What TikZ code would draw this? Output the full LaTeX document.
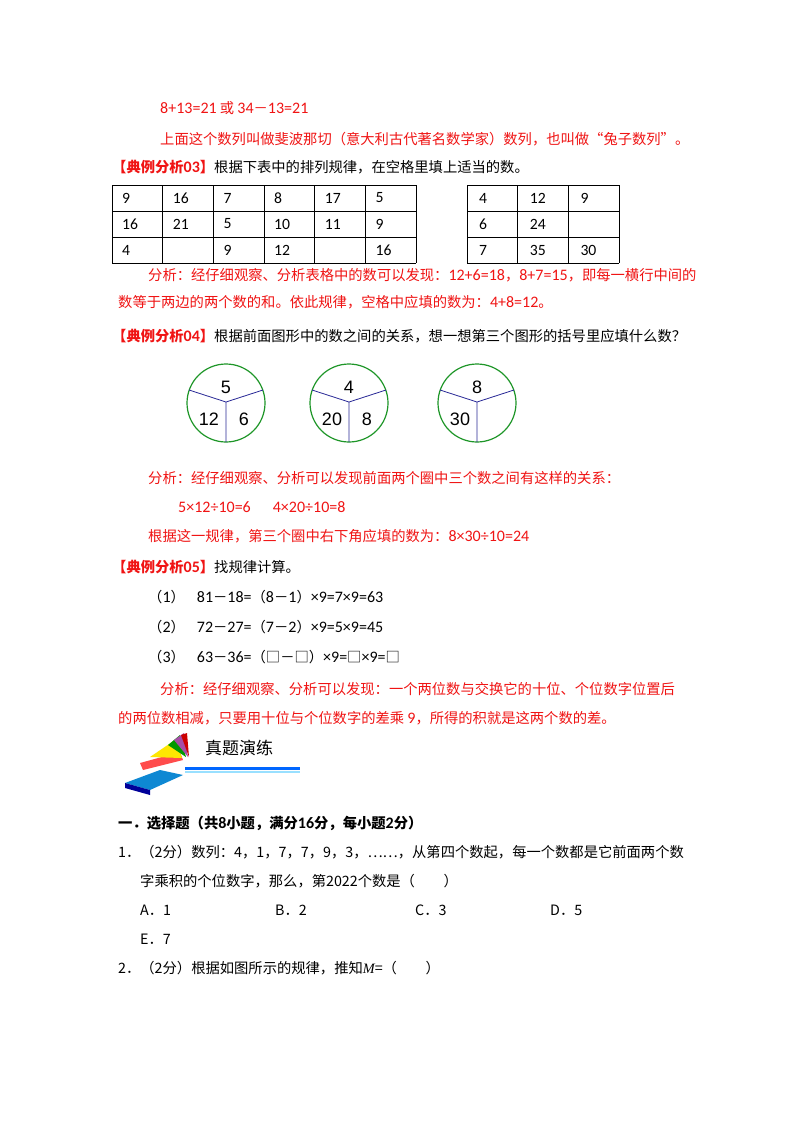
\documentclass[tikz,border=0pt]{standalone}
\usepackage{fontspec}
\setmainfont{Noto Sans CJK SC}
\newfontfamily\lat[Scale=1.12]{Carlito}
\newfontfamily\arl{Liberation Sans}
\definecolor{rd}{RGB}{240,20,20}
\definecolor{gr}{RGB}{30,150,40}
\definecolor{bl}{RGB}{40,40,150}
\begin{document}
\begin{tikzpicture}[x=1pt,y=-1pt,
 t/.style={anchor=west,inner sep=0,font=\fontsize{14.3}{14}\selectfont},
 r/.style={t,text=rd},
 c/.style={font=\fontsize{14}{14}\selectfont\lat,inner sep=0},
 n/.style={font=\fontsize{18}{18}\selectfont\arl,inner sep=0}]
\useasboundingbox[fill=white] (0,0) rectangle (800,1132);
\node[r] (l1) at (160,108) {{\lat 8+13=21} 或 {\lat 34}－{\lat 13=21}};
\node[r] (l2) at (160,139) {上面这个数列叫做斐波那切（意大利古代著名数学家）数列，也叫做“兔子数列”。};
\node[t] (l3) at (112,167) {\textcolor{rd}{\bfseries 【典例分析{\lat 03}】}根据下表中的排列规律，在空格里填上适当的数。};
% tables
\foreach \j in {0,...,3} \draw[thick] (112,185+26*\j) -- (416,185+26*\j);
\foreach \i in {0,...,6} \draw[thick] (112+50.67*\i,185) -- (112+50.67*\i,263);
\foreach \i/\a/\b/\c in {0/9/16/4,1/16/21/,2/7/5/9,3/8/10/12,4/17/11/,5/5/9/16}{
 \node[c,anchor=west] (a\i) at (112+50.67*\i+10,198) {\a};
 \node[c,anchor=west] (b\i) at (112+50.67*\i+10,224) {\b};
 \node[c,anchor=west] (d\i) at (112+50.67*\i+10,250) {\c};}
\foreach \j in {0,...,3} \draw[thick] (467,185+26*\j) -- (619,185+26*\j);
\foreach \i in {0,...,3} \draw[thick] (467+50.67*\i,185) -- (467+50.67*\i,263);
\foreach \i/\a/\b/\c in {0/4/6/7,1/12/24/35,2/9//30}{
 \node[c,anchor=west] (e\i) at (467+50.67*\i+12,198) {\a};
 \node[c,anchor=west] (f\i) at (467+50.67*\i+12,224) {\b};
 \node[c,anchor=west] (g\i) at (467+50.67*\i+12,250) {\c};}
\node[r] (l4) at (148,275) {分析：经仔细观察、分析表格中的数可以发现：{\lat 12+6=18}，{\lat 8+7=15}，即每一横行中间的};
\node[r] (l5) at (118,302) {数等于两边的两个数的和。依此规律，空格中应填的数为：{\lat 4+8=12}。};
\node[t] (l6) at (112,336) {\textcolor{rd}{\bfseries 【典例分析{\lat 04}】}根据前面图形中的数之间的关系，想一想第三个图形的括号里应填什么数？};
% circles
\foreach \x/\p/\q/\s [count=\k] in {226/5/12/6,349/4/20/8,477/8/30/}{
 \draw[gr,line width=1.2pt] (\x,403) circle (39);
 \coordinate (o\k) at (\x,402);
 \draw[bl,line width=0.8pt] (o\k) -- ++(-37,-12) (o\k) -- ++(37,-12) (o\k) -- ++(0,40);
 \node[n] (p\k) at (\x,387) {\p};
 \node[n] (q\k) at (\x-17,419) {\q};
 \node[n] (s\k) at (\x+18,419) {\s};}
\node[r] (l7) at (148,478) {分析：经仔细观察、分析可以发现前面两个圈中三个数之间有这样的关系：};
\node[r] (l8) at (178,507) {\lat 5×12÷10=6\hspace{22pt}4×20÷10=8};
\node[r] (l9) at (148,536) {根据这一规律，第三个圈中右下角应填的数为：{\lat 8×30÷10=24}};
\node[t] (l10) at (112,567) {\textcolor{rd}{\bfseries 【典例分析{\lat 05}】}找规律计算。};
\node[t] (m1) at (148,597) {（{\lat 1}）\hspace{12pt}{\lat 81}－{\lat 18=}（{\lat 8}－{\lat 1}）{\lat ×9=7×9=63}};
\node[t] (m2) at (148,627) {（{\lat 2}）\hspace{12pt}{\lat 72}－{\lat 27=}（{\lat 7}－{\lat 2}）{\lat ×9=5×9=45}};
\node[t] (m3) at (148,657) {（{\lat 3}）\hspace{12pt}{\lat 63}－{\lat 36=}（□－□）{\lat ×9=}□{\lat ×9=}□};
\node[r] (l11) at (160,689) {分析：经仔细观察、分析可以发现：一个两位数与交换它的十位、个位数字位置后};
\node[r] (l12) at (118,718) {的两位数相减，只要用十位与个位数字的差乘 {\lat 9}，所得的积就是这两个数的差。};
% icon
\fill[blue!60!cyan] (185,767) rectangle (300,770);
\fill[blue!30!cyan!40] (185,771) rectangle (300,772.5);
\fill[red!70] (140,763) -- (180,752) -- (183,760) -- (143,770) -- cycle;
\fill[yellow!90!orange] (150,757) -- (175,740) -- (182,758) -- cycle;
\fill[green!60!black] (168,745) -- (180,735) -- (186,757) -- cycle;
\fill[violet!70] (174,740) -- (184,733) -- (188,757) -- cycle;
\fill[red!80!black] (181,735) -- (187,733) -- (189,757) -- cycle;
\fill[cyan!70!blue] (125,783) -- (160,770) -- (183,775) -- (150,790) -- cycle;
\fill[blue!60!black] (125,783) -- (150,790) -- (150,795) -- (125,788) -- cycle;
\node[t,font=\fontsize{17}{17}\selectfont] (h) at (205,748) {真题演练};
\node[t] (s1) at (118,823) {\bfseries 一．选择题（共{\lat 8}小题，满分{\lat 16}分，每小题{\lat 2}分）};
\node[t] (q1) at (118,852) {1．（2分）数列：4，1，7，7，9，3，……，从第四个数起，每一个数都是它前面两个数};
\node[t] (q1b) at (140,881) {字乘积的个位数字，那么，第2022个数是（\quad\quad）};
\node[t] (oa) at (140,910) {A．1};
\node[t] (ob) at (275,910) {B．2};
\node[t] (oc) at (415,910) {C．3};
\node[t] (od) at (550,910) {D．5};
\node[t] (oe) at (140,939) {E．7};
\node[t] (q2) at (118,968) {2．（2分）根据如图所示的规律，推知{\fontspec{Liberation Serif}\itshape M}=（\quad\quad）};
\end{tikzpicture}
\end{document}
